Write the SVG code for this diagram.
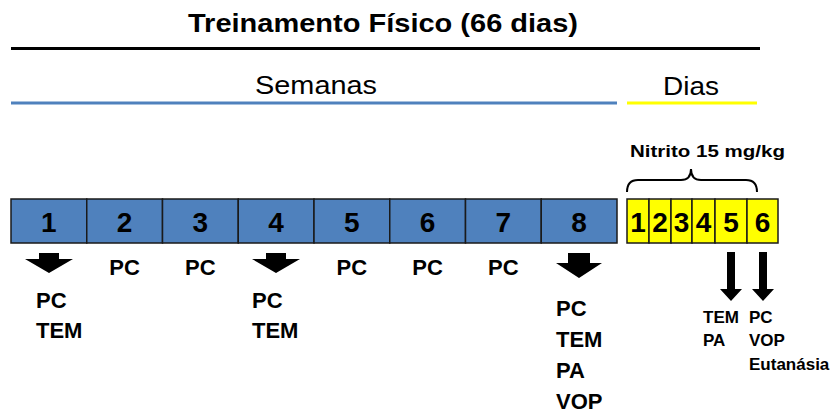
<svg xmlns="http://www.w3.org/2000/svg" width="837" height="413" viewBox="0 0 837 413">
<style>
text{font-family:"Liberation Sans",Arial,sans-serif;fill:#000}
.b{font-weight:bold}
.wk{fill:#4F81BD;stroke:#1a1a1a;stroke-width:1.5}
.dy{fill:#FFFF00;stroke:#1a1a1a;stroke-width:1.5}
.num{font-weight:bold;font-size:28px;text-anchor:middle}
.lbl{font-weight:bold;font-size:22px}
.sm{font-weight:bold;font-size:17px}
.arr{fill:#000}
</style>
<rect width="837" height="413" fill="#fff"/>
<g id="header">
<text class="b" x="188" y="32" font-size="26" textLength="390" lengthAdjust="spacingAndGlyphs">Treinamento Físico (66 dias)</text>
<line x1="11" y1="48.5" x2="760" y2="48.5" stroke="#000" stroke-width="3"/>
<text x="255" y="94" font-size="26" textLength="122" lengthAdjust="spacingAndGlyphs">Semanas</text>
<line x1="11" y1="103" x2="617" y2="103" stroke="#4F81BD" stroke-width="3"/>
<text x="663" y="95" font-size="26" textLength="56" lengthAdjust="spacingAndGlyphs">Dias</text>
<line x1="627" y1="103" x2="757" y2="103" stroke="#FFFF00" stroke-width="3"/>
</g>
<g id="weeks">
<g id="w1"><rect class="wk" x="11" y="199" width="75.75" height="44"/><text class="num" x="48.9" y="232">1</text></g>
<g id="w2"><rect class="wk" x="86.75" y="199" width="75.75" height="44"/><text class="num" x="124.6" y="232">2</text></g>
<g id="w3"><rect class="wk" x="162.5" y="199" width="75.75" height="44"/><text class="num" x="200.4" y="232">3</text></g>
<g id="w4"><rect class="wk" x="238.25" y="199" width="75.75" height="44"/><text class="num" x="276.1" y="232">4</text></g>
<g id="w5"><rect class="wk" x="314" y="199" width="75.75" height="44"/><text class="num" x="351.9" y="232">5</text></g>
<g id="w6"><rect class="wk" x="389.75" y="199" width="75.75" height="44"/><text class="num" x="427.6" y="232">6</text></g>
<g id="w7"><rect class="wk" x="465.5" y="199" width="75.75" height="44"/><text class="num" x="503.4" y="232">7</text></g>
<g id="w8"><rect class="wk" x="541.25" y="199" width="75.75" height="44"/><text class="num" x="579.1" y="232">8</text></g>
</g>
<g id="days">
<g id="d1"><rect class="dy" x="627" y="199" width="22" height="44"/><text class="num" x="638" y="232">1</text></g>
<g id="d2"><rect class="dy" x="649" y="199" width="22" height="44"/><text class="num" x="660" y="232">2</text></g>
<g id="d3"><rect class="dy" x="671" y="199" width="21" height="44"/><text class="num" x="681.5" y="232">3</text></g>
<g id="d4"><rect class="dy" x="692" y="199" width="23" height="44"/><text class="num" x="703.5" y="232">4</text></g>
<g id="d5"><rect class="dy" x="715" y="199" width="32" height="44"/><text class="num" x="731" y="232">5</text></g>
<g id="d6"><rect class="dy" x="747" y="199" width="31" height="44"/><text class="num" x="762.5" y="232">6</text></g>
</g>
<g id="nitrito">
<path d="M627,192 Q627,180 638,180 L681,180 Q691,180 691,169 Q691,180 701,180 L746,180 Q757,180 757,192" fill="none" stroke="#000" stroke-width="2"/>
<text class="b" x="630" y="157" font-size="17" textLength="155" lengthAdjust="spacingAndGlyphs">Nitrito 15 mg/kg</text>
</g>
<g id="connectors">
<polygon class="arr" points="39,253 59,253 59,259 73,259 49,273 25,259 39,259"/>
<polygon class="arr" points="266,253 286,253 286,259 300,259 276,273 252,259 266,259"/>
<polygon class="arr" points="568,253 590,253 590,263 602,263 579,278 556,263 568,263"/>
<polygon class="arr" points="727,252 735,252 735,289 742,289 731,301 720,289 727,289"/>
<polygon class="arr" points="759,252 767,252 767,289 774,289 763,301 752,289 759,289"/>
</g>
<g id="labels-w1"><text class="lbl" x="36" y="308">PC</text><text class="lbl" x="36" y="338">TEM</text></g>
<g id="labels-pc">
<text class="lbl" x="124.6" y="275" text-anchor="middle">PC</text>
<text class="lbl" x="200.4" y="275" text-anchor="middle">PC</text>
<text class="lbl" x="351.9" y="275" text-anchor="middle">PC</text>
<text class="lbl" x="427.6" y="275" text-anchor="middle">PC</text>
<text class="lbl" x="503.4" y="275" text-anchor="middle">PC</text>
</g>
<g id="labels-w4"><text class="lbl" x="252" y="308">PC</text><text class="lbl" x="252" y="338">TEM</text></g>
<g id="labels-w8">
<text class="lbl" x="556" y="316">PC</text>
<text class="lbl" x="556" y="347">TEM</text>
<text class="lbl" x="556" y="378">PA</text>
<text class="lbl" x="556" y="409">VOP</text>
</g>
<g id="labels-d5"><text class="sm" x="703" y="323">TEM</text><text class="sm" x="703" y="346">PA</text></g>
<g id="labels-d6"><text class="sm" x="749" y="323">PC</text><text class="sm" x="749" y="346">VOP</text><text class="sm" x="749" y="370">Eutanásia</text></g>
</svg>
